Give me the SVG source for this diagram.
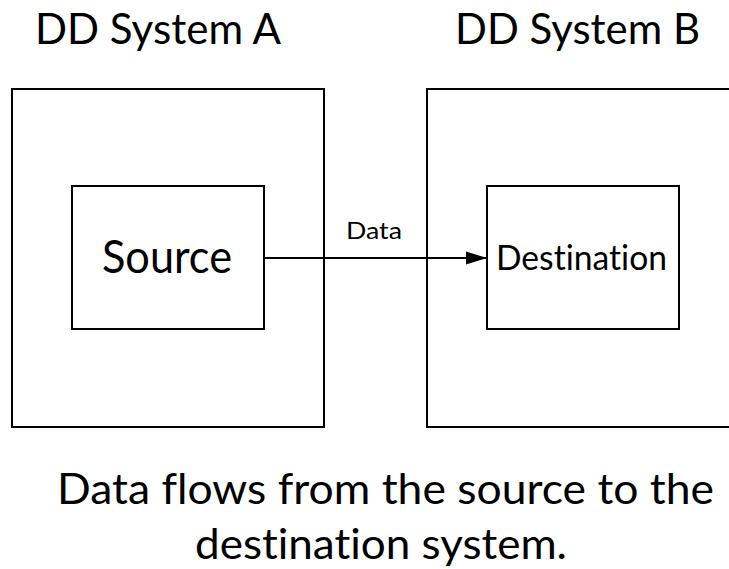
<svg xmlns="http://www.w3.org/2000/svg" width="729" height="569" viewBox="0 0 729 569">
<style>
.box{fill:#fff;stroke:#000;stroke-width:2}
.t{font-family:Lato,"Liberation Sans",sans-serif;fill:#000;font-variant-ligatures:none;font-feature-settings:"liga" 0}
.conn{stroke:#000;stroke-width:2;fill:none}
</style>
<defs>
<marker id="arr" markerWidth="22" markerHeight="14" refX="21" refY="7" orient="auto" markerUnits="userSpaceOnUse">
<path d="M0,0.5 L21,7 L0,13.5 Z" fill="#000"/>
</marker>
</defs>
<rect width="729" height="569" fill="#fff"/>
<g id="title-a"><text class="t" x="35" y="44" font-size="42" textLength="246" lengthAdjust="spacingAndGlyphs">DD System A</text></g>
<g id="title-b"><text class="t" x="455" y="44" font-size="42" textLength="245" lengthAdjust="spacingAndGlyphs">DD System B</text></g>
<g id="system-a"><rect class="box" x="12" y="89" width="312" height="338"/></g>
<g id="system-b"><rect class="box" x="427" y="89" width="320" height="338"/></g>
<g id="source"><rect class="box" x="72" y="186" width="192" height="143"/>
<text class="t" x="102" y="273" font-size="47" textLength="130" lengthAdjust="spacingAndGlyphs">Source</text></g>
<g id="destination"><rect class="box" x="487" y="186" width="192" height="143"/>
<text class="t" x="496" y="270" font-size="35.5" textLength="171" lengthAdjust="spacingAndGlyphs">Destination</text></g>
<g id="connectors">
<line class="conn" x1="264" y1="258" x2="487" y2="258" marker-end="url(#arr)"/>
<text class="t" x="346" y="239" font-size="23" textLength="56" lengthAdjust="spacingAndGlyphs">Data</text>
</g>
<g id="caption">
<text class="t" x="57" y="504" font-size="43" textLength="657" lengthAdjust="spacingAndGlyphs">Data flows from the source to the</text>
<text class="t" x="195" y="559" font-size="43" textLength="372" lengthAdjust="spacingAndGlyphs">destination system.</text>
</g>
</svg>
